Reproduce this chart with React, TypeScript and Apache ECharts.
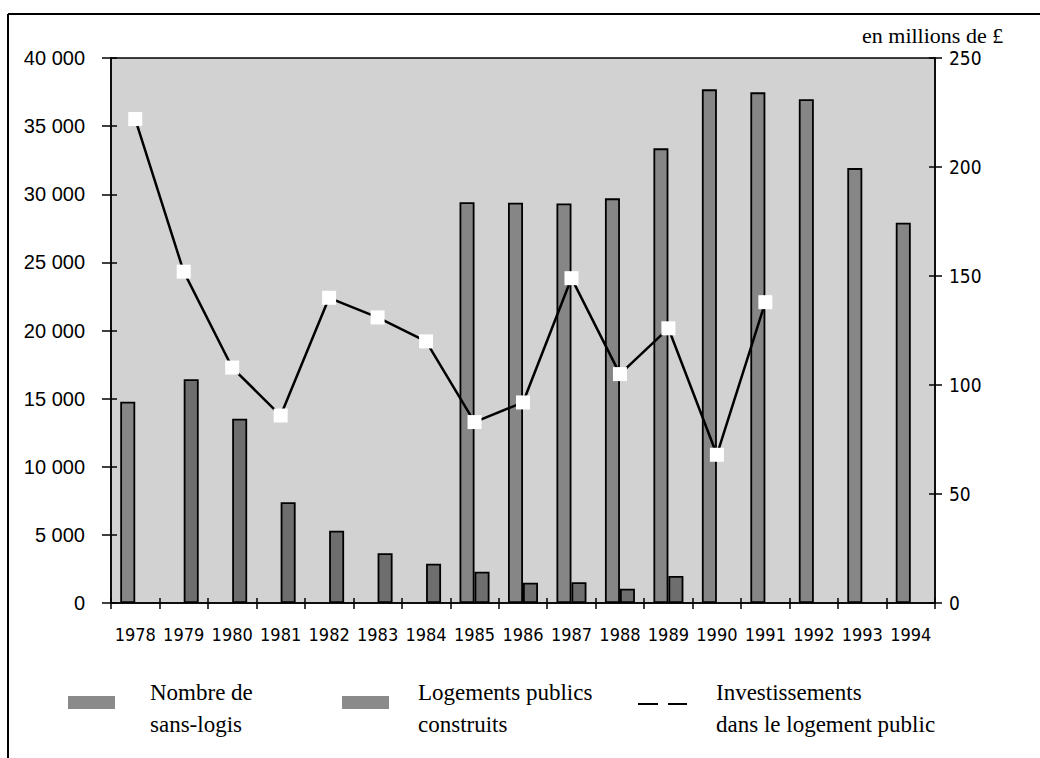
import React, { useEffect, useRef } from "react";
import * as echarts from "echarts";

const years = ["1978","1979","1980","1981","1982","1983","1984","1985","1986","1987","1988","1989","1990","1991","1992","1993","1994"];
const homeless = [14770, null, null, null, null, null, null, 29410, 29380, 29330, 29700, 33370, 37700, 37480, 36970, 31920, 27910];
const housing = [null, 16420, 13530, 7390, 5310, 3650, 2880, 2300, 1490, 1520, 1050, 1980, null, null, null, null, null];
const investment = [222, 152, 108, 86, 140, 131, 120, 83, 92, 149, 105, 126, 68, 138, null, null, null];

const legendHomeless = ["Nombre de", "sans-logis"];
const legendHousing = ["Logements publics", "construits"];
const legendInvest = ["Investissements", "dans le logement public"];
const rightUnit = "en millions de £";

const fmt = (v: number) => String(v).replace(/\B(?=(\d{3})+(?!\d))/g, " ");

export default function App() {
  const ref = useRef<HTMLDivElement>(null);
  useEffect(() => {
    const chart = echarts.init(ref.current!, null, { renderer: "svg" });
    const serif = "Liberation Serif";
    const narrow = "'Liberation Sans Narrow', 'DejaVu Sans Condensed', 'Liberation Sans'";
    const axisLine = { show: true, lineStyle: { color: "#000", width: 1.5 } };
    const legendText = (x: number, lines: string[]) =>
      lines.map((t, i) => ({
        type: "text",
        x,
        y: 692 + i * 32,
        style: { text: t, fill: "#000", font: `23px "${serif}"`, textVerticalAlign: "middle" },
      }));
    chart.setOption({
      animation: false,
      backgroundColor: "#fff",
      grid: {
        left: 111, right: 105, top: 58, bottom: 155,
        show: true, backgroundColor: "#d2d2d2", borderColor: "#000", borderWidth: 1.5,
      },
      xAxis: [
        {
          type: "category", data: years, position: "bottom",
          axisLine,
          axisTick: { show: true, alignWithLabel: false, length: 6, lineStyle: { color: "#000", width: 1.5 } },
          axisLabel: { interval: 0, color: "#000", fontFamily: narrow, fontSize: 18, margin: 22 },
        },
        {
          type: "category", data: years, position: "bottom", offset: 0,
          axisLine: { show: false },
          axisTick: { show: true, inside: true, length: 5, lineStyle: { color: "#000", width: 1.5 } },
          axisLabel: { show: false },
        },
      ],
      yAxis: [
        {
          type: "value", min: 0, max: 40000, interval: 5000, position: "left",
          axisLine, splitLine: { show: false },
          axisTick: { show: true, length: 9, lineStyle: { color: "#000", width: 1.5 } },
          axisLabel: { color: "#000", fontFamily: "Liberation Sans", fontSize: 20, margin: 26, formatter: fmt },
        },
        {
          type: "value", min: 0, max: 250, interval: 50, position: "right",
          axisLine, splitLine: { show: false },
          axisTick: { show: true, length: 7, lineStyle: { color: "#000", width: 1.5 } },
          axisLabel: { color: "#000", fontFamily: narrow, fontSize: 19, margin: 14 },
        },
        {
          type: "value", min: 0, max: 40000, interval: 5000, position: "left", offset: 0,
          axisLine: { show: false }, splitLine: { show: false },
          axisTick: { show: true, inside: true, length: 6, lineStyle: { color: "#000", width: 1.5 } },
          axisLabel: { show: false },
        },
        {
          type: "value", min: 0, max: 250, interval: 50, position: "right", offset: 0,
          axisLine: { show: false }, splitLine: { show: false },
          axisTick: { show: true, inside: true, length: 6, lineStyle: { color: "#000", width: 1.5 } },
          axisLabel: { show: false },
        },
      ],
      series: [
        {
          name: "Nombre de sans-logis", type: "bar", data: homeless, yAxisIndex: 0,
          barWidth: 15, barGap: "0%",
          itemStyle: { color: "#868686", borderColor: "#000", borderWidth: 1.8 },
        },
        {
          name: "Logements publics construits", type: "bar", data: housing, yAxisIndex: 0,
          barWidth: 15, barGap: "0%",
          itemStyle: { color: "#6e6e6e", borderColor: "#000", borderWidth: 1.8 },
        },
        {
          name: "Investissements dans le logement public", type: "line", data: investment, yAxisIndex: 1,
          symbol: "rect", symbolSize: 14, z: 5,
          lineStyle: { color: "#000", width: 2.5 },
          itemStyle: { color: "#fff", borderWidth: 0 },
        },
      ],
      graphic: [
        { type: "line", shape: { x1: 8, y1: 14, x2: 1040, y2: 14 }, style: { stroke: "#000", lineWidth: 2 } },
        { type: "line", shape: { x1: 8, y1: 14, x2: 8, y2: 758 }, style: { stroke: "#000", lineWidth: 2 } },
        {
          type: "text", x: 862, y: 35,
          style: { text: rightUnit, fill: "#000", font: `22px "${serif}"`, textVerticalAlign: "middle" },
        },
        { type: "rect", shape: { x: 68, y: 696, width: 47, height: 13 }, style: { fill: "#8a8a8a" } },
        ...legendText(150, legendHomeless),
        { type: "rect", shape: { x: 342, y: 696, width: 47, height: 13 }, style: { fill: "#8a8a8a" } },
        ...legendText(418, legendHousing),
        { type: "line", shape: { x1: 638, y1: 704, x2: 658, y2: 704 }, style: { stroke: "#000", lineWidth: 2 } },
        { type: "line", shape: { x1: 668, y1: 704, x2: 687, y2: 704 }, style: { stroke: "#000", lineWidth: 2 } },
        ...legendText(716, legendInvest),
      ],
    });
    return () => chart.dispose();
  }, []);
  return <div ref={ref} style={{ position: "fixed", left: 0, top: 0, width: 1040, height: 758 }} />;
}
